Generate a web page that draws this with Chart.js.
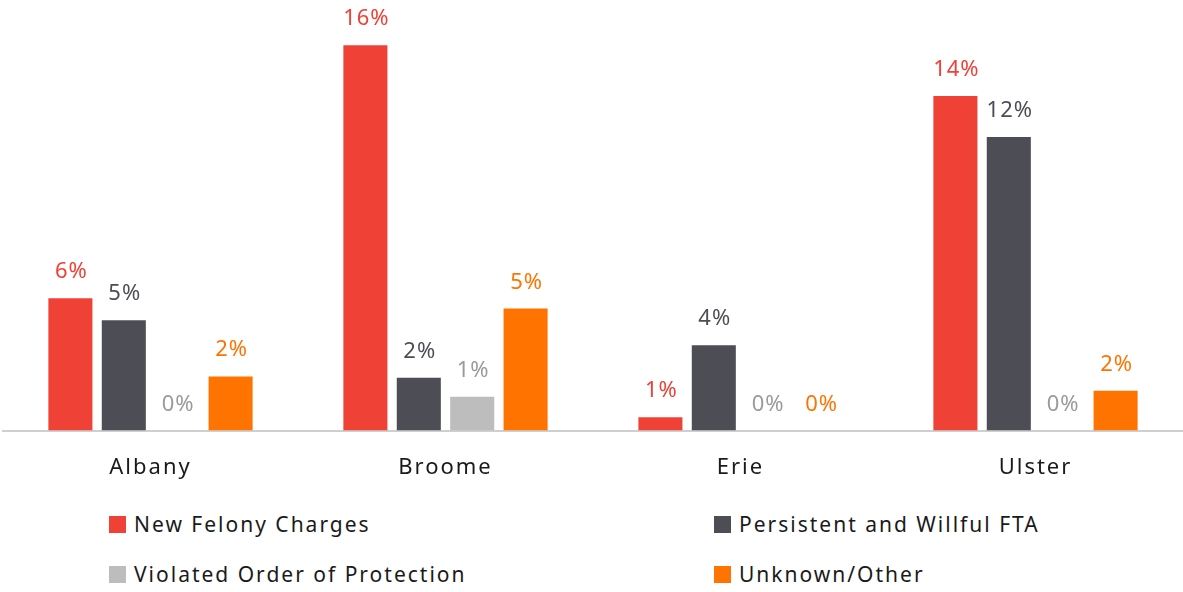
<!DOCTYPE html>
<html>
<head>
<meta charset="utf-8">
<script src="https://cdn.jsdelivr.net/npm/chart.js@4.4.1/dist/chart.umd.min.js"></script>
<style>
    body { margin: 0; background: #fff; font-family: "Noto Sans", sans-serif; }
    #wrap { position: relative; width: 1183px; height: 511px; }
    #legend { display: grid; grid-template-columns: 605px 420px; padding-left: 109px; margin-top: -12px; }
    .item { display: flex; align-items: center; height: 50px; font-size: 21px; letter-spacing: 2px; color: #1a1a1a; }
    .swatch { width: 17px; height: 17px; margin-right: 8px; }
</style>
</head>
<body>
<div id="wrap"><canvas id="chart"></canvas></div>
<div id="legend"></div>
<script>
// Data
const counties = ["Albany", "Broome", "Erie", "Ulster"];
const newFelony = [5.5, 16.0, 0.55, 13.9];
const persistentFTA = [4.58, 2.2, 3.54, 12.19];
const violatedOrder = [0, 1.41, 0, 0];
const unknownOther = [2.25, 5.07, 0, 1.66];

const seriesNames = ["New Felony Charges", "Persistent and Willful FTA", "Violated Order of Protection", "Unknown/Other"];
const barColors = ["#ef4136", "#4d4d55", "#bdbdbd", "#ff7300"];
const labelColors = ["#ef4136", "#4d4d55", "#9a9a9a", "#ff7300"];

// wider letter spacing to get closer to the original typeface
const spacing = {
    id: "spacing",
    beforeDraw(chart) {
        chart.ctx.letterSpacing = "2px";
    }
};

// value labels drawn above each bar
const valueLabels = {
    id: "valueLabels",
    afterDatasetsDraw(chart) {
        const ctx = chart.ctx;
        ctx.save();
        ctx.font = "22px 'Noto Sans'";
        ctx.letterSpacing = "1px";
        ctx.textAlign = "center";
        ctx.textBaseline = "alphabetic";
        chart.data.datasets.forEach((ds, i) => {
            chart.getDatasetMeta(i).data.forEach((bar, j) => {
                ctx.fillStyle = labelColors[i];
                ctx.fillText(Math.round(ds.data[j]) + "%", bar.x + 1, bar.y - 20);
            });
        });
        ctx.restore();
    }
};

const ctx = document.getElementById("chart").getContext("2d");
new Chart(ctx, {
    type: "bar",
    data: {
        labels: counties,
        datasets: [newFelony, persistentFTA, violatedOrder, unknownOther].map((d, i) => ({
            label: seriesNames[i],
            data: d,
            backgroundColor: barColors[i],
            categoryPercentage: 0.724,
            barPercentage: 0.825,
        })),
    },
    options: {
        responsive: true,
        maintainAspectRatio: false,
        animation: false,
        layout: { padding: { left: 3, top: 2, right: 0, bottom: 6 } },
        plugins: { legend: { display: false }, tooltip: { enabled: false } },
        scales: {
            x: {
                grid: { display: false, drawTicks: false },
                border: { color: "#cfcfcf", width: 2 },
                ticks: { color: "#1a1a1a", font: { family: "Noto Sans", size: 22 }, padding: 24 },
            },
            y: { display: false, min: 0, max: 17.8 },
        },
    },
    plugins: [spacing, valueLabels],
});

// HTML legend, two columns
const legend = document.getElementById("legend");
seriesNames.forEach((name, i) => {
    const item = document.createElement("div");
    item.className = "item";
    item.innerHTML = '<span class="swatch" style="background:' + barColors[i] + '"></span>' + name;
    legend.appendChild(item);
});
</script>
</body>
</html>
